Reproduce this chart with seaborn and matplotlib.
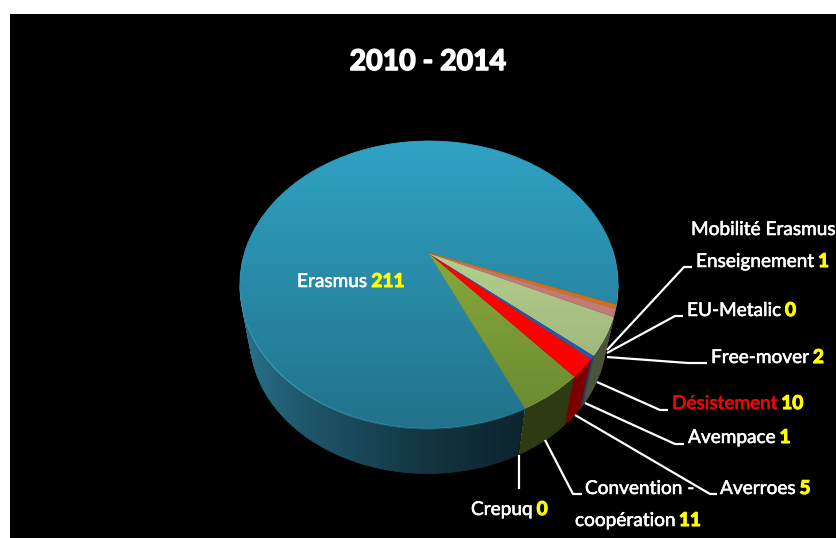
"""
3D looking pie of the 2010 - 2014 mobility numbers
"""
import numpy as np
import matplotlib
matplotlib.use("Agg")
import matplotlib.pyplot as plt
import matplotlib.patheffects as pe
from matplotlib.transforms import Transform, Affine2D
import seaborn as sns

title = "2010 - 2014"

# slices, counter clockwise from the orange/blue border
categories = ["Erasmus", "Crepuq", "Convention", "Averroes", "Avempace",
              "Désistement", "Free-mover", "EU-Metalic", "Mobilité Enseignement"]
counts = [211, 0, 11, 5, 1, 10, 2, 0, 1]

top_colors = ["#30A2C4", "#808080", "#97BF44", "#FF0000", "#2A5A9A",
              "#CDEB9F", "#C07A78", "#808080", "#D0701F"]
side_colors = ["#2B7A96", "#808080", "#2D3A12", "#7A0000", "#1F3F6A",
               "#4A5438", "#5A3A38", "#808080", "#6A3810"]
rim_colors = ["#55BAD8", "#808080", "#2D3A12", "#7A0000", "#1F3F6A",
              "#4A5438", "#5A3A38", "#808080", "#6A3810"]
shaded = ["Erasmus", "Convention", "Désistement"]

# label text, value (empty for no value), text colour, left x, baseline y
label_names = ["Erasmus", "Crepuq", "Convention -", "coopération", "Averroes",
               "Avempace", "Désistement", "Free-mover", "EU-Metalic",
               "Enseignement", "Mobilité Erasmus"]
label_values = ["211", "0", "", "11", "5", "1", "10", "2", "0", "1", ""]
label_colors = ["white", "white", "white", "white", "white", "white", "#FF0000",
                "white", "white", "white", "white"]
label_x = [297, 471, 585, 575, 720, 688, 672, 711, 687, 696, 691]
label_y = [287, 515, 494, 526, 494, 443, 409, 363, 316, 267, 235]

# leader lines
leader_x = [[519, 519], [582, 573, 545], [717, 710, 575], [684, 675, 585],
            [668, 660, 597], [707, 688, 607], [683, 675, 607], [692, 684, 607]]
leader_y = [[489, 455], [494, 494, 440], [494, 494, 415], [444, 444, 403],
            [410, 410, 382], [363, 363, 357], [316, 316, 353], [267, 267, 350]]


class Perspective(Transform):
    """Tilts the flat unit pie, the far side gets squeezed"""
    input_dims = 2
    output_dims = 2

    def __init__(self, sx, sy, k):
        super().__init__()
        self.sx, self.sy, self.k = sx, sy, k

    def transform_non_affine(self, values):
        values = np.asarray(values)
        w = 1 + self.k * values[:, 1]
        return np.column_stack([self.sx * values[:, 0] / w, -self.sy * values[:, 1] / w])


sns.set_theme(style="white")
plt.rcParams["font.family"] = ["Lato", "DejaVu Sans"]

fig = plt.figure(figsize=(8.37, 5.38), dpi=100, facecolor="white")
ax = fig.add_axes([10 / 837, 0, 827 / 837, 524 / 538])

persp = Perspective(184.5, 136.6, 0.2195)
apex_x, apex_y = 429, 253
start = -20.5


def draw_pie(palette, dx, dy, scale, zorder):
    wedges, _ = ax.pie(counts, colors=sns.color_palette(palette), startangle=start,
                       counterclock=True, normalize=True,
                       wedgeprops={"linewidth": 0.6, "zorder": zorder})
    place = Affine2D().scale(scale).translate(apex_x + dx, apex_y + dy)
    for w, c in zip(wedges, palette):
        w.set_edgecolor(c)
        w.set_transform(persp + place + ax.transData)
    return wedges


# side wall, stacked from the bottom up
depth = 56
for i in range(depth, 1, -1):
    t = i / depth
    draw_pie(side_colors, -1 * t, depth * t, 1 - 0.06 * t, 1 + (depth - i) * 0.005)

draw_pie(rim_colors, 0, 1.5, 0.998, 1.5)

# horizontal shade on the blue wall, it stops at the blue/green border of the wall
xs = np.arange(230, 630) + 0.5
ys = np.arange(250, 490) + 0.5
shade = np.zeros((len(ys), len(xs), 4))
alpha = np.interp(xs, [238, 300, 430, 530], [0.05, 0.28, 0.58, 0.72])
border = np.interp(ys, [406, 453], [525, 519])
shade[..., 3] = alpha * (xs[None, :] < border[:, None])
ax.imshow(shade, extent=(230, 630, 490, 250), aspect="auto", zorder=2, interpolation="nearest")

top = draw_pie(top_colors, 0, 0, 1, 4)

# the top face gets darker towards the viewer
fade = np.zeros((300, 1, 4))
fade[..., 3] = np.linspace(0, 0.3, 300)[:, None]
for w, name in zip(top, categories):
    if name in shaded:
        img = ax.imshow(fade, extent=(230, 630, 430, 140), aspect="auto", zorder=5,
                        interpolation="bilinear")
        img.set_clip_path(w)

ax.set_aspect("auto")
ax.set_xlim(10, 837)
ax.set_ylim(538, 14)
ax.set_frame_on(True)
ax.set_facecolor("black")
ax.set_xticks([])
ax.set_yticks([])
for s in ax.spines.values():
    s.set_visible(False)

for lx, ly in zip(leader_x, leader_y):
    ax.plot(lx, ly, color="white", lw=1.6, zorder=6, solid_capstyle="butt")

ax.text(428, 70, title, color="white", fontsize=20.5, fontweight="bold", ha="center",
        va="baseline", zorder=8, path_effects=[pe.withStroke(linewidth=1.1, foreground="white")])

renderer = fig.canvas.get_renderer()
for name, value, c, x, y in zip(label_names, label_values, label_colors, label_x, label_y):
    t = ax.text(x, y, name, color=c, fontsize=13.7, va="baseline", zorder=8,
                path_effects=[pe.withStroke(linewidth=0.4, foreground=c)])
    if value:
        end = t.get_window_extent(renderer).x1 / fig.dpi * 100
        ax.text(end + 4, y, value, color="#FFFF00", fontsize=13.7, fontweight="bold",
                va="baseline", zorder=8,
                path_effects=[pe.withStroke(linewidth=0.8, foreground="#FFFF00")])

fig.savefig("out.png", dpi=100, facecolor="white")
